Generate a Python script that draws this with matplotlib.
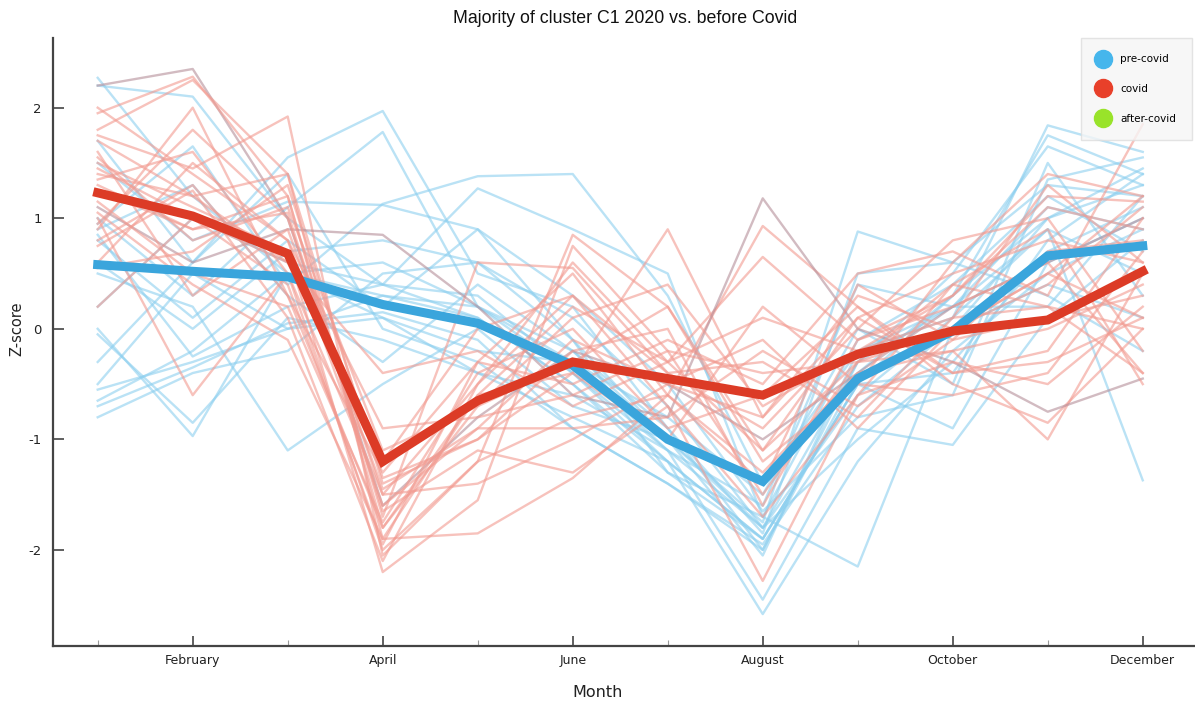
import matplotlib
matplotlib.use("Agg")
import matplotlib.pyplot as plt
from matplotlib.lines import Line2D
import numpy as np

months = ["January", "February", "March", "April", "May", "June", "July",
          "August", "September", "October", "November", "December"]

pre_covid_lines = [
    [2.27, 1.2, 0.5, 0.3, 0.2, -0.4, -1.1, -1.8, -0.6, 0.1, 1.84, 1.6],
    [2.2, 2.1, 1.0, 0.4, 0.1, -0.5, -1.2, -1.9, -0.5, 0.3, 1.75, 1.4],
    [1.7, 0.6, 1.55, 1.97, 0.5, 0.2, -0.9, -2.0, -0.3, 0.5, 1.65, 1.3],
    [1.0, 0.3, 1.1, 1.78, 0.2, -0.2, -1.0, -1.75, 0.88, 0.6, 1.3, 1.2],
    [0.95, 1.65, 0.4, 1.13, 1.38, 1.4, 0.3, -1.4, -0.2, 0.2, 1.1, 0.9],
    [0.85, -0.25, 0.2, 0.4, 1.27, 0.9, 0.5, -1.7, -2.15, 0.0, 1.0, 1.3],
    [0.8, 0.1, 0.8, 0.2, 0.9, -0.1, -1.3, -1.9, -0.5, -0.4, 0.8, 1.4],
    [0.5, 0.2, -1.1, -0.5, 0.0, -0.7, -1.0, -1.8, -0.3, 0.2, 0.9, -1.37],
    [0.2, 1.0, 0.6, 0.4, 0.3, -0.4, -1.2, -2.58, -1.2, -0.2, 0.5, 0.9],
    [0.0, -0.97, 0.5, 0.1, -0.2, -0.3, -1.1, -2.45, -0.9, -1.05, 0.1, 0.8],
    [-0.05, -0.85, 0.1, -0.1, -0.4, -0.8, -1.2, -1.9, -0.5, -0.9, 0.6, 1.0],
    [-0.3, 0.6, 1.4, 0.0, -0.3, -0.9, -1.4, -2.0, -0.4, 0.3, 1.0, 1.45],
    [-0.5, 0.5, 0.0, 0.3, 0.1, -0.5, -1.3, -1.7, -0.1, 0.4, 1.2, 0.7],
    [-0.55, -0.3, 0.0, 0.1, -0.4, -0.6, -1.1, -1.6, 0.4, 0.2, 0.2, 1.2],
    [-0.65, -0.2, 0.5, 0.6, 0.2, -0.3, -0.8, -1.5, 0.0, -0.5, 1.5, 0.3],
    [-0.7, -0.35, 0.05, 0.15, -0.1, -0.9, -1.4, -1.95, -0.7, 0.0, 0.4, 0.1],
    [-0.8, -0.4, -0.2, 0.5, 0.6, 0.1, -0.7, -1.8, -1.0, -0.3, 0.7, 1.1],
    [0.9, 1.3, 0.3, -0.3, 0.4, -0.2, -0.9, -1.85, 0.5, 0.6, 0.3, -0.2],
    [1.5, 0.8, 1.15, 1.12, 0.9, 0.3, -0.5, -1.65, -0.8, -0.6, 1.35, 1.55],
    [0.6, 0.0, 0.7, 0.8, 0.6, -0.1, -1.0, -2.05, -0.2, 0.1, 0.9, 0.5],
]

covid_lines = [
    [2.2, 2.35, 1.0, -1.6, -0.8, -0.2, -0.5, -1.0, -0.4, 0.2, 0.6, 1.0],
    [1.95, 2.28, 1.2, -1.8, -0.6, 0.2, -0.3, 0.65, -0.1, 0.3, 1.2, 1.15],
    [1.8, 2.25, 1.4, -1.4, -1.0, -0.4, 0.9, -0.8, 0.3, 0.0, 0.5, 1.2],
    [1.75, 1.45, 1.92, -2.05, -1.2, 0.85, 0.2, -1.2, -0.5, 0.6, 1.4, 1.2],
    [1.5, 1.1, 0.7, -2.2, -1.55, 0.75, -0.2, -1.5, -0.3, -0.2, -1.0, 0.5],
    [1.4, 1.2, 1.4, -1.9, -1.85, -1.35, -0.6, 0.93, 0.2, -0.5, -0.85, 0.0],
    [1.25, 0.9, 1.2, -1.7, 0.6, 0.55, -0.4, -0.3, -0.8, 0.1, 0.2, -0.4],
    [1.1, 0.6, 0.9, 0.85, 0.2, -0.6, -0.8, 1.18, 0.0, -0.3, -0.75, -0.45],
    [1.0, -0.6, 0.5, -1.5, -0.5, 0.3, -0.7, -2.28, -0.6, 0.4, 0.9, -0.5],
    [0.8, 1.3, 0.3, -1.3, -0.3, -0.5, -0.1, -0.5, 0.5, 0.7, 0.3, 1.85],
    [0.6, 1.5, 0.8, -1.6, -0.9, -0.9, -0.8, -0.2, -0.7, -0.1, 0.1, 0.3],
    [0.2, 1.0, 0.6, -0.4, -0.2, -0.7, -0.3, -1.1, 0.1, 0.5, 0.8, 0.6],
    [1.55, 0.8, 1.1, -1.1, -0.7, 0.1, 0.4, -0.7, -0.2, 0.3, 1.1, 0.9],
    [1.35, 1.6, 0.5, -2.0, -1.2, -0.8, -0.6, -1.3, -0.4, -0.2, 0.0, 0.4],
    [1.15, 0.5, 0.2, -1.75, -0.4, 0.0, -0.9, -0.6, 0.2, -0.4, -0.3, 0.1],
    [0.95, 1.8, 1.0, -1.5, -1.4, -1.0, -0.5, -0.1, -0.9, 0.0, 0.4, 1.1],
    [1.7, 1.2, 0.6, -1.2, 0.0, 0.3, -0.4, -0.9, 0.0, 0.8, 1.0, -0.2],
    [1.05, 0.4, -0.1, -1.9, -0.6, -0.4, -1.0, 0.2, -0.5, -0.6, -0.4, 0.7],
    [0.55, 0.7, 1.3, -1.35, -1.0, -0.2, 0.0, -1.6, -0.1, 0.2, 0.6, -0.4],
    [1.45, 1.0, 0.4, -1.95, -0.3, 0.5, -0.6, -1.4, 0.4, -0.1, 0.7, 0.8],
    [2.0, 1.4, 0.8, -0.9, -0.8, -0.6, -0.2, -0.4, -0.3, 0.4, 0.2, 0.0],
    [1.3, 0.9, 1.05, -1.65, -1.1, -1.3, -0.7, -1.7, -0.6, -0.3, -0.5, 0.2],
    [0.75, 1.25, 0.1, -2.1, -0.5, 0.6, -0.3, 0.1, -0.2, 0.1, 1.3, 0.6],
    [1.6, 0.3, 0.9, -1.45, -0.9, -0.1, -0.5, -0.8, 0.1, -0.4, -0.2, 1.0],
    [0.9, 2.0, 0.3, -1.8, -0.7, -0.3, 0.2, -1.1, -0.3, 0.0, 0.5, 0.1],
]

pre_covid_mean = [0.58, 0.52, 0.47, 0.22, 0.05, -0.33, -1.0, -1.38, -0.45, -0.02, 0.66, 0.75]
covid_mean = [1.23, 1.02, 0.68, -1.2, -0.65, -0.3, -0.45, -0.6, -0.23, -0.02, 0.08, 0.52]

legend_labels = ["pre-covid", "covid", "after-covid"]

# styles
muted_covid = {0, 7}
c_blue_thin = "#8ccfef"
c_red_thin = "#f29a90"
c_muted = "#b58e99"
c_blue = "#3aa5dc"
c_red = "#dc3b26"
c_green = "#99e32a"

fig = plt.figure(figsize=(11.95, 7.04), dpi=100)
ax = fig.add_axes([0.0444, 0.0828, 0.9556, 0.8632])
x = np.arange(len(months))

for ln in pre_covid_lines:
    ax.plot(x, ln, color=c_blue_thin, lw=1.7, alpha=0.6, zorder=2)
for i, ln in enumerate(covid_lines):
    col = c_muted if i in muted_covid else c_red_thin
    ax.plot(x, ln, color=col, lw=1.7, alpha=0.6, zorder=2)

ax.plot(x, pre_covid_mean, color=c_blue, lw=6.5, zorder=4, solid_joinstyle="miter")
ax.plot(x, covid_mean, color=c_red, lw=6.5, zorder=5, solid_joinstyle="miter")

ax.set_xlim(-0.47, 11.55)
ax.set_ylim(-2.866, 2.63)

ax.set_xticks(x[1::2])
ax.set_xticklabels(months[1::2], fontsize=9, color="#222222")
ax.set_xticks(x[0::2], minor=True)
ax.set_yticks([-2, -1, 0, 1, 2])
ax.set_yticklabels(["-2", "-1", "0", "1", "2"], fontsize=9.5, color="#222222")
ax.tick_params(axis="x", which="major", direction="in", length=7, width=1.2, color="#444444", pad=6)
ax.tick_params(axis="x", which="minor", direction="in", length=4, width=0.8, color="#999999")
ax.tick_params(axis="y", which="major", direction="in", length=8, width=1.2, color="#444444", pad=8)

for s in ["top", "right"]:
    ax.spines[s].set_visible(False)
for s in ["left", "bottom"]:
    ax.spines[s].set_color("#444444")
    ax.spines[s].set_linewidth(1.6)

fig.text(0.523, 0.974, "Majority of cluster C1 2020 vs. before Covid", ha="center", va="center",
         fontsize=12.8, color="#111111", family="Liberation Sans")
fig.text(0.5, 0.006, "Month", ha="center", va="bottom", fontsize=11.5, color="#222222",
         fontweight="medium")
fig.text(0.014, 0.533, "Z-score", ha="center", va="center", rotation=90, fontsize=10.5, color="#222222")

handles = [Line2D([0], [0], marker="o", linestyle="none", markersize=13, markerfacecolor=c,
                  markeredgecolor=c) for c in ["#46b6ec", "#e8402a", c_green]]
leg = fig.legend(handles, legend_labels, loc="upper right", bbox_to_anchor=(0.9975, 0.946),
                 fontsize=7.5, frameon=True, fancybox=False, handletextpad=1.0,
                 labelspacing=1.9, borderpad=1.55, handlelength=1.2, borderaxespad=0)
leg.get_frame().set_facecolor("#f6f6f6")
leg.get_frame().set_edgecolor("#dddddd")

fig.savefig("out.png", dpi=100)
